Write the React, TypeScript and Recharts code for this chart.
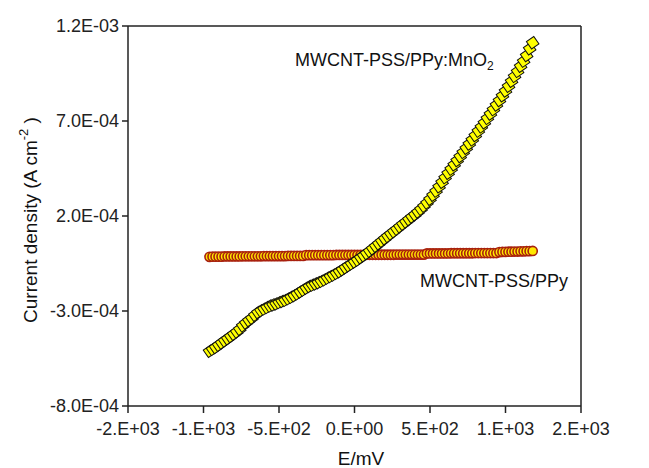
import { ScatterChart, Scatter, XAxis, YAxis, ReferenceLine, Customized } from "recharts";

// potential sweep (mV)
const potentials = [
  -960, -940, -920, -900, -880, -860, -840, -820, -800, -780, -760, -740, -720, -700, -680, -660, -640, -620,
  -600, -580, -560, -540, -520, -500, -480, -460, -440, -420, -400, -380, -360, -340, -320, -300, -280, -260,
  -240, -220, -200, -180, -160, -140, -120, -100, -80, -60, -40, -20, 0, 20, 40, 60, 80, 100,
  120, 140, 160, 180, 200, 220, 240, 260, 280, 300, 320, 340, 360, 380, 400, 420, 440, 460,
  480, 500, 520, 540, 560, 580, 600, 620, 640, 660, 680, 700, 720, 740, 760, 780, 800, 820,
  840, 860, 880, 900, 920, 940, 960, 980, 1000, 1020, 1040, 1060, 1080, 1100, 1120, 1140, 1160, 1180,
];

// current density, units of 1E-04 A cm-2
const pssPpy = [
  -0.15, -0.14, -0.14, -0.14, -0.14, -0.13, -0.13, -0.13, -0.13, -0.13, -0.13, -0.12, -0.12, -0.12, -0.12, -0.12,
  -0.12, -0.12, -0.11, -0.11, -0.11, -0.11, -0.11, -0.11, -0.11, -0.11, -0.1, -0.1, -0.1, -0.1, -0.1, -0.1,
  -0.06, -0.06, -0.06, -0.06, -0.06, -0.06, -0.06, -0.06, -0.06, -0.06, -0.05, -0.05, -0.05, -0.05, -0.05, -0.05,
  -0.05, -0.05, -0.05, -0.05, -0.04, -0.04, -0.04, -0.04, -0.04, -0.04, -0.04, -0.04, -0.04, -0.04, -0.03, -0.03,
  -0.03, -0.03, -0.03, -0.03, -0.03, -0.03, -0.03, -0.03, 0.03, 0.03, 0.03, 0.03, 0.03, 0.03, 0.03, 0.03,
  0.04, 0.04, 0.04, 0.04, 0.04, 0.04, 0.04, 0.04, 0.05, 0.05, 0.05, 0.05, 0.05, 0.05, 0.05, 0.05,
  0.1, 0.11, 0.11, 0.12, 0.12, 0.13, 0.13, 0.14, 0.14, 0.15, 0.15, 0.16,
];

const pssPpyMnO2 = [
  -5.12, -5.02, -4.92, -4.8, -4.68, -4.57, -4.46, -4.34, -4.22, -4.1, -3.96, -3.78, -3.63, -3.5, -3.38, -3.22,
  -3.08, -2.98, -2.9, -2.82, -2.74, -2.68, -2.63, -2.56, -2.5, -2.44, -2.36, -2.28, -2.2, -2.1, -2.0, -1.9,
  -1.8, -1.71, -1.64, -1.58, -1.51, -1.44, -1.36, -1.27, -1.19, -1.11, -1.02, -0.93, -0.83, -0.72, -0.62, -0.52,
  -0.42, -0.32, -0.2, -0.09, 0.03, 0.15, 0.28, 0.41, 0.54, 0.67, 0.8, 0.93, 1.06, 1.18, 1.31, 1.44,
  1.57, 1.69, 1.82, 1.95, 2.07, 2.21, 2.36, 2.52, 2.69, 2.88, 3.09, 3.31, 3.54, 3.78, 4.02, 4.25,
  4.47, 4.7, 4.92, 5.13, 5.35, 5.57, 5.79, 6.01, 6.24, 6.47, 6.69, 6.91, 7.14, 7.37, 7.6, 7.84,
  8.08, 8.33, 8.58, 8.83, 9.09, 9.35, 9.61, 9.88, 10.15, 10.45, 10.8, 11.12,
];

const xTicks = [-1500, -1000, -500, 0, 500, 1000, 1500];
const xTickLabels = ["-2.E+03", "-1.E+03", "-5.E+02", "0.E+00", "5.E+02", "1.E+03", "2.E+03"];
const yTicks = [-8e-4, -3e-4, 2e-4, 7e-4, 1.2e-3];
const yTickLabels = ["-8.0E-04", "-3.0E-04", "2.0E-04", "7.0E-04", "1.2E-03"];

const redData = potentials.map((e, i) => ({ e, j: pssPpy[i] * 1e-4 }));
const yellowData = potentials.map((e, i) => ({ e, j: pssPpyMnO2[i] * 1e-4 }));

const FONT = "'Liberation Sans', Arial, sans-serif";
const AXIS = "#222";

const Circle = (p: any) => (
  <circle cx={p.cx} cy={p.cy} r={4.6} fill="#ffe800" stroke="#a8200e" strokeWidth={1.6} />
);
const Square = (p: any) => (
  <rect
    x={p.cx - 4.5}
    y={p.cy - 4.5}
    width={9}
    height={9}
    fill="#ffff00"
    stroke="#111"
    strokeWidth={1}
    transform={`rotate(-35 ${p.cx} ${p.cy})`}
  />
);

const Annotations = () => (
  <g fontFamily={FONT} fill="#111">
    <text x={295} y={66} fontSize={18}>
      MWCNT-PSS/PPy:MnO<tspan dy={4} fontSize={12}>2</tspan>
    </text>
    <text x={420} y={287} fontSize={18}>MWCNT-PSS/PPy</text>
    <text x={37} y={220} fontSize={19} textAnchor="middle" transform="rotate(-90 37 220)">
      Current density (A cm<tspan dy={-9} fontSize={13}>-2</tspan>
      <tspan dy={9}> )</tspan>
    </text>
    <text x={361} y={465} fontSize={19} textAnchor="middle">E/mV</text>
  </g>
);

export default function App() {
  return (
    <div style={{ width: 649, height: 468, background: "#fff" }}>
      <style>{`body{margin:0}`}</style>
      <ScatterChart width={649} height={468} margin={{ top: 26, right: 68, bottom: 0, left: 0 }}>
        <XAxis
          type="number"
          dataKey="e"
          domain={[-1500, 1500]}
          ticks={xTicks}
          tickFormatter={(v: number) => xTickLabels[xTicks.indexOf(v)]}
          height={62}
          stroke={AXIS}
          strokeWidth={1.5}
          tickSize={7}
          tickMargin={9}
          tick={{ fill: "#222", fontSize: 18, fontFamily: FONT }}
          allowDataOverflow
        />
        <YAxis
          type="number"
          dataKey="j"
          domain={[-8e-4, 1.2e-3]}
          ticks={yTicks}
          tickFormatter={(v: number) => yTickLabels[yTicks.indexOf(v)]}
          width={128}
          stroke={AXIS}
          strokeWidth={1.5}
          tickSize={6}
          tickMargin={3}
          tick={{ fill: "#222", fontSize: 18, fontFamily: FONT }}
          allowDataOverflow
        />
        <ReferenceLine y={1.2e-3} stroke={AXIS} strokeWidth={1.5} />
        <ReferenceLine x={1500} stroke={AXIS} strokeWidth={1.5} />
        <Scatter data={redData} shape={Circle} isAnimationActive={false} />
        <Scatter data={yellowData} shape={Square} isAnimationActive={false} />
        <Customized component={Annotations} />
      </ScatterChart>
    </div>
  );
}
